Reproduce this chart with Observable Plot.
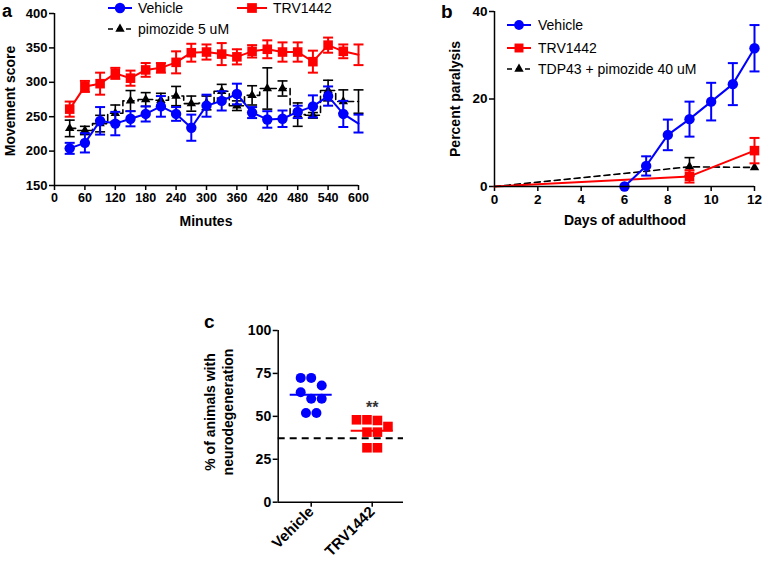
<!DOCTYPE html>
<html><head><meta charset="utf-8">
<script src="https://cdn.jsdelivr.net/npm/d3@7"></script>
<script src="https://cdn.jsdelivr.net/npm/@observablehq/plot@0.6"></script>
<style>
body{margin:0;background:#fff;}
#fig{position:relative;width:762px;height:561px;overflow:hidden;background:#fff;}
#fig > svg, #fig > figure{position:absolute;margin:0;}
</style></head><body><div id="fig"></div>
<script>
// ---------- Panel a data ----------
const minutes = [30,60,90,120,150,180,210,240,270,300,330,360,390,420,450,480,510,540,570,600];
const vehicleA    = [204,212,244,240,247,254,265,254,234,266,273,283,256,246,247,257,265,280,254,240];
const vehicleAErr = [8,14,20,17,11,11,15,10,19,16,14,15,8,12,12,9,16,14,19,13];
const trvA        = [261,294,298,313,306,318,321,329,343,344,341,337,345,348,344,344,330,354,345,340];
const trvAErr     = [11,8,16,8,11,10,7,16,13,11,16,11,9,13,14,14,16,11,10,15];
const pimA        = [233,230,240,255,273,275,274,280,269,270,287,266,281,291,291,253,252,288,272,272];
const pimAErr     = [12,6,12,12,15,10,10,14,11,10,10,7,14,30,11,17,4,15,17,17];
const minuteTicks = [0,60,120,180,240,300,360,420,480,540,600];
const scoreTicks  = [150,200,250,300,350,400];
const legendA = ["Vehicle","TRV1442","pimozide 5 uM"];

// ---------- Panel b data ----------
const daysVehicle = [6,7,8,9,10,11,12];
const vehicleB    = [0,4.7,11.8,15.4,19.4,23.4,31.6];
const vehicleBErr = [0,2.2,3.5,4.0,4.3,4.8,5.3];
const daysTrv     = [0,9,12];
const trvB        = [0,2.3,8.2];
const trvBErr     = [0,1.4,2.9];
const daysPim     = [0,9,12];
const pimB        = [0,4.5,4.35];
const pimBErr     = [0,2.1,0];
const dayTicks    = [0,2,4,6,8,10,12];
const paralysisTicks = [0,20,40];
const legendB = ["Vehicle","TRV1442","TDP43 + pimozide 40 uM"];

// ---------- Panel c data ----------
const groupsC   = ["Vehicle","TRV1442"];
const vehicleC  = [72.4,72.4,68,64,60.2,60.2,52,52];
const trvC      = [48,48,47.6,44.1,40.8,40.8,31.7,31.7];
const baselineC = 37.3;
const neuroTicks = [0,25,50,75,100];
const signifC = "**";

// ---------- helpers ----------
const FONT = '"Liberation Sans", Arial, Helvetica, sans-serif';
const BLUE = "#0000ff", RED = "#ff0000", BLACK = "#000000";
const cap = {draw(ctx, size){ const w = Math.sqrt(size/Math.PI); ctx.moveTo(-w,0); ctx.lineTo(w,0); }};
const fig = document.getElementById("fig");

function rows(xs, ys, es){ return xs.map((x,i)=>({x, y: ys[i], e: es[i]})); }
function errMarks(data, color, sw, capR){
  const d = data.filter(r=>r.e>0);
  return [
    Plot.ruleX(d,{x:"x",y1:r=>r.y-r.e,y2:r=>r.y+r.e,stroke:color,strokeWidth:sw}),
    Plot.dot(d,{x:"x",y:r=>r.y+r.e,symbol:cap,r:capR,stroke:color,fill:"none",strokeWidth:sw}),
    Plot.dot(d,{x:"x",y:r=>r.y-r.e,symbol:cap,r:capR,stroke:color,fill:"none",strokeWidth:sw})
  ];
}
function place(el, left, top){ el.style.left = left+"px"; el.style.top = top+"px"; fig.appendChild(el); }
const baseStyle = {fontFamily:FONT, fontWeight:"bold", color:"#000", background:"transparent", overflow:"visible"};

// ---------- Panel a ----------
const vA = rows(minutes, vehicleA, vehicleAErr);
const tA = rows(minutes, trvA, trvAErr);
const pA = rows(minutes, pimA, pimAErr);
const lastMin = d3.max(minutes);
const plotA = Plot.plot({
  width:380, height:240, marginLeft:54, marginRight:22, marginTop:13, marginBottom:55,
  style:{...baseStyle, fontSize:"13px"},
  x:{domain:[0,600]}, y:{domain:[150,400]},
  marks:[
    Plot.axisX({ticks:minuteTicks, tickSize:5, tickPadding:3, label:null, strokeWidth:1.5, fontSize:12.5}),
    Plot.axisY({ticks:scoreTicks, tickSize:5, tickPadding:2, label:null, strokeWidth:1.5, fontSize:13}),
    Plot.ruleX([0],{strokeWidth:1.5}), Plot.ruleY([150],{strokeWidth:1.5}),
    ...errMarks(pA, BLACK, 1.6, 5),
    Plot.line(pA,{x:"x",y:"y",stroke:BLACK,strokeWidth:1.6,strokeDasharray:"6,4",curve:"step"}),
    Plot.dot(pA.filter(r=>r.x<lastMin),{x:"x",y:"y",symbol:"triangle",r:3.5,fill:BLACK}),
    ...errMarks(vA, BLUE, 2, 5),
    Plot.line(vA,{x:"x",y:"y",stroke:BLUE,strokeWidth:2}),
    Plot.dot(vA.filter(r=>r.x<lastMin),{x:"x",y:"y",symbol:"circle",r:5.2,fill:BLUE}),
    ...errMarks(tA, RED, 2, 5),
    Plot.line(tA,{x:"x",y:"y",stroke:RED,strokeWidth:2}),
    Plot.dot(tA.filter(r=>r.x<lastMin),{x:"x",y:"y",symbol:"square",r:5.4,fill:RED})
  ]
});
place(plotA, 0, 0);

// ---------- Panel b ----------
const vB = rows(daysVehicle, vehicleB, vehicleBErr);
const tB = rows(daysTrv, trvB, trvBErr);
const pB = rows(daysPim, pimB, pimBErr);
const plotB = Plot.plot({
  width:382, height:240, marginLeft:114, marginRight:8, marginTop:11, marginBottom:54,
  style:{...baseStyle, fontSize:"13.5px"},
  x:{domain:[0,12]}, y:{domain:[0,40]},
  marks:[
    Plot.axisX({ticks:dayTicks, tickSize:5, tickPadding:3, label:null, strokeWidth:1.5, fontSize:13.5}),
    Plot.axisY({ticks:paralysisTicks, tickSize:5, tickPadding:2, label:null, strokeWidth:1.5, fontSize:13.5}),
    ...errMarks(pB, BLACK, 1.6, 5),
    Plot.line(pB,{x:"x",y:"y",stroke:BLACK,strokeWidth:1.6,strokeDasharray:"6,4"}),
    Plot.dot(pB.filter(r=>r.x>0),{x:"x",y:"y",symbol:"triangle",r:3.5,fill:BLACK}),
    ...errMarks(tB, RED, 2, 5),
    Plot.line(tB,{x:"x",y:"y",stroke:RED,strokeWidth:2}),
    Plot.dot(tB.filter(r=>r.x>0),{x:"x",y:"y",symbol:"square",r:5.4,fill:RED}),
    ...errMarks(vB, BLUE, 2, 5),
    Plot.line(vB,{x:"x",y:"y",stroke:BLUE,strokeWidth:2}),
    Plot.dot(vB,{x:"x",y:"y",symbol:"circle",r:5.2,fill:BLUE}),
    Plot.ruleX([0],{strokeWidth:1.5}), Plot.ruleY([0],{strokeWidth:1.5})
  ]
});
place(plotB, 380, 0);

// ---------- Panel c ----------
const cW = 230, cH = 261, cML = 87.7, cMR = 17, cMT = 30, cMB = 59.3;
const cDomainX = [-0.541, 1.513];
const unitsPerPx = (cDomainX[1]-cDomainX[0]) / (cW - cML - cMR);
// GraphPad-like scatter: group near-equal values into rows and centre each row
function scatterRows(values, gi){
  const sorted = values.slice().sort((a,b)=>b-a);
  const out = []; let row = [];
  const flush = ()=>{ row.forEach((v,i)=>out.push({g:gi, y:v, x: gi + (i-(row.length-1)/2)*10.5*unitsPerPx})); row = []; };
  sorted.forEach(v=>{ if (row.length && row[0]-v > 4.6) flush(); row.push(v); });
  flush();
  return out;
}
const ptsV = scatterRows(vehicleC, 0), ptsT = scatterRows(trvC, 1);
const meansC = [{g:0, m:d3.mean(vehicleC)}, {g:1, m:d3.mean(trvC)}];
const halfMean = 21*unitsPerPx;
const plotC = Plot.plot({
  width:cW, height:cH, marginLeft:cML, marginRight:cMR, marginTop:cMT, marginBottom:cMB,
  style:{...baseStyle, fontSize:"14px"},
  x:{domain:cDomainX}, y:{domain:[0,100]},
  marks:[
    Plot.axisY({ticks:neuroTicks, tickSize:5, tickPadding:2, label:null, strokeWidth:1.5, fontSize:14}),
    Plot.axisX({ticks:[0,1], tickFormat:i=>groupsC[i], tickRotate:-45, tickSize:5, tickPadding:2, label:null, strokeWidth:1.5, fontSize:15}),
    Plot.ruleX([cDomainX[0]],{strokeWidth:1.5}), Plot.ruleY([0],{strokeWidth:1.5}),
    Plot.ruleY([baselineC],{stroke:BLACK,strokeWidth:2,strokeDasharray:"7,5"}),
    Plot.dot(ptsV,{x:"x",y:"y",symbol:"circle",r:5,fill:BLUE}),
    Plot.dot(ptsT,{x:"x",y:"y",symbol:"square",r:5.4,fill:RED}),
    Plot.ruleY(meansC,{y:"m",x1:d=>d.g-halfMean,x2:d=>d.g+halfMean,stroke:d=>d.g?RED:BLUE,strokeWidth:2}),
    Plot.text([signifC],{x:1, y:d3.max(trvC)+7, text:d=>d, fontSize:16, fontWeight:"bold", fill:"#333"})
  ]
});
place(plotC, 190, 300);

// ---------- overlay: panel labels, axis titles, legends ----------
const ov = d3.select(fig).append("svg").attr("width",762).attr("height",561)
  .style("left","0px").style("top","0px").style("font-family",FONT);
function txt(x,y,s,size,weight,anchor,rot,baseline){
  const t = ov.append("text").attr("x",x).attr("y",y).text(s)
    .attr("font-size",size).attr("font-weight",weight||"normal")
    .attr("text-anchor",anchor||"middle").attr("dominant-baseline",baseline||"central").attr("fill","#000");
  if (rot) t.attr("transform",`rotate(${rot},${x},${y})`);
  return t;
}
txt(2,16.5,"a",18,"bold","start",0,"alphabetic");
txt(441,18,"b",19,"bold","start",0,"alphabetic");
txt(204,328,"c",19,"bold","start",0,"alphabetic");
txt(10,101,"Movement score",14,"bold","middle",-90);
txt(206,221,"Minutes",14,"bold");
txt(455,99,"Percent paralysis",14,"bold","middle",-90);
txt(625,220,"Days of adulthood",14,"bold");
txt(210,412,"% of animals with",14,"bold","middle",-90);
txt(228,412,"neurodegeneration",14,"bold","middle",-90);

function legendItem(x0,x1,y,color,sym,size,dashed,label,tx){
  ov.append("line").attr("x1",x0).attr("x2",x1).attr("y1",y).attr("y2",y)
    .attr("stroke",color).attr("stroke-width",dashed?1.6:2).attr("stroke-dasharray",dashed?"5,4":null);
  ov.append("path").attr("d",d3.symbol(sym,size)()).attr("transform",`translate(${(x0+x1)/2},${y})`).attr("fill",color);
  txt(tx,y,label,14,"normal","start");
}
legendItem(108,132,8,BLUE,d3.symbolCircle,85,false,legendA[0],138);
legendItem(237,267,8,RED,d3.symbolSquare,95,false,legendA[1],273);
legendItem(108,132,29,BLACK,d3.symbolTriangle,38,true,legendA[2],138);
legendItem(507,531,25,BLUE,d3.symbolCircle,75,false,legendB[0],538);
legendItem(507,531,48,RED,d3.symbolSquare,80,false,legendB[1],538);
legendItem(507,531,69,BLACK,d3.symbolTriangle,38,true,legendB[2],538);
</script></body></html>
